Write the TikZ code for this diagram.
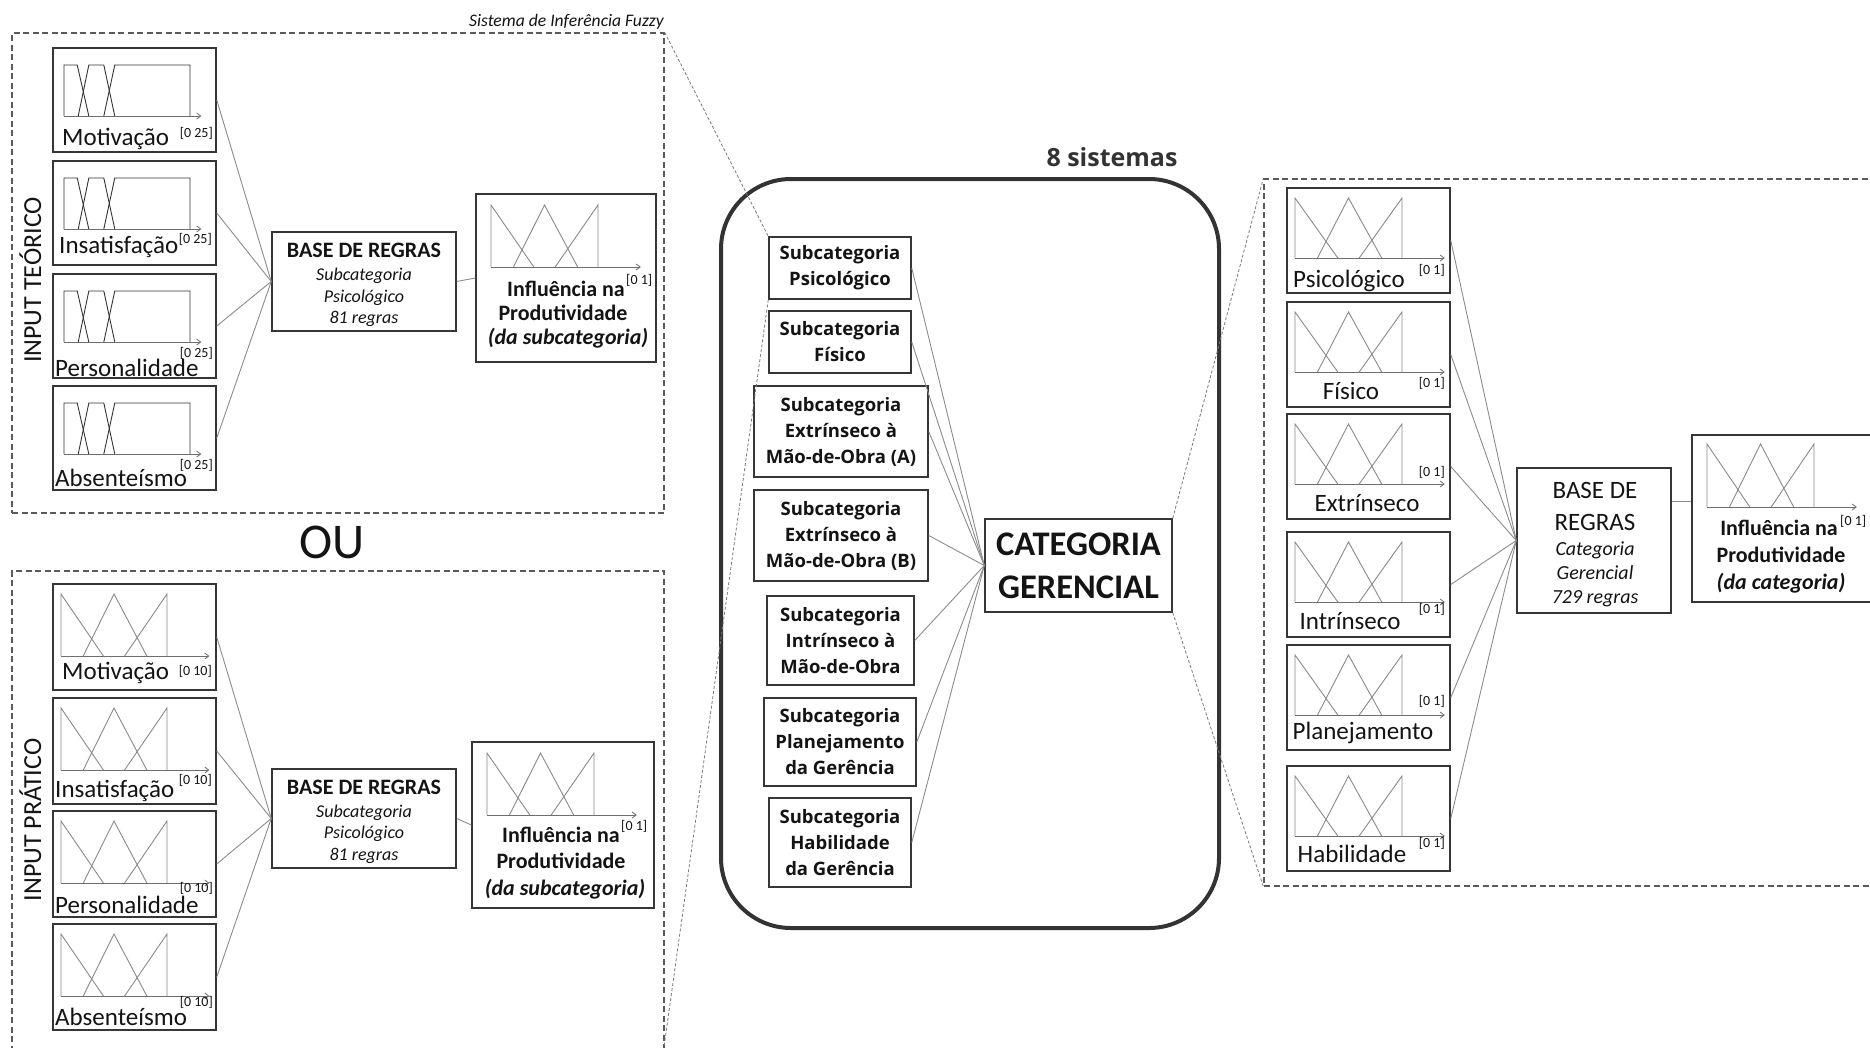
\documentclass[tikz,border=0pt]{standalone}
\usepackage{fontspec}
\setmainfont{Carlito}
\newfontfamily\opensans{Open Sans}
\usetikzlibrary{arrows.meta}

\definecolor{boxc}{HTML}{363636}
\definecolor{linkc}{HTML}{8C8C8C}
\definecolor{projc}{HTML}{7A7A7A}
\definecolor{framec}{HTML}{5A5A5A}
\definecolor{mfdark}{HTML}{333333}
\definecolor{mflight}{HTML}{8A8A8A}
\definecolor{axisc}{HTML}{6E6E6E}
\definecolor{groupc}{HTML}{333333}
\definecolor{textc}{HTML}{141414}

\newcommand\setfs[1]{\fontsize{#1}{#1}\selectfont}

% rectangle node from its two corners: [style]{name}{x1}{y1}{x2}{y2}{text}
\newcommand\rbox[7][box]{%
  \pgfmathsetmacro\bcx{(#3+#5)/2}\pgfmathsetmacro\bcy{(#4+#6)/2}%
  \pgfmathsetmacro\bw{#5-#3}\pgfmathsetmacro\bh{#6-#4}%
  \node[#1, minimum width=\bw pt, minimum height=\bh pt] (#2) at (\bcx,\bcy) {#7};}

% three triangular membership functions: x0, base y, width, height
\newcommand\trimf[4]{%
  \begin{scope}[shift={(#1,#2)}]
    \draw[mfline] (0,0) -- (0,-#4) -- ({0.40*#3},0);
    \draw[mfline] ({0.21*#3},0) -- ({0.5*#3},-#4) -- ({0.81*#3},0);
    \draw[mfline] ({0.60*#3},0) -- (#3,-#4) -- (#3,0);
    \draw[axisline] (0,0) -- ({1.4*#3},0);
  \end{scope}}

% three trapezoidal membership functions: x0, base y, width, height
\newcommand\trapmf[4]{%
  \begin{scope}[shift={(#1,#2)}]
    \draw[mfline, draw=mfdark] (0,0) -- (0,-#4) -- ({0.105*#3},-#4) -- ({0.197*#3},0);
    \draw[mfline, draw=mfdark] ({0.113*#3},0) -- ({0.197*#3},-#4) -- ({0.316*#3},-#4) -- ({0.403*#3},0);
    \draw[mfline, draw=mfdark] ({0.316*#3},0) -- ({0.403*#3},-#4) -- (#3,-#4) -- (#3,0);
    \draw[axisline] (0,0) -- ({1.09*#3},0);
  \end{scope}}

\begin{document}
\begin{tikzpicture}[x=1pt,y=-1pt,
  box/.style={draw=boxc, line width=1.5pt, inner sep=0pt},
  frame/.style={draw=framec, line width=1.3pt, dash pattern=on 6pt off 3.5pt, inner sep=0pt},
  group/.style={draw=groupc, line width=4pt, rounded corners=70pt, inner sep=0pt},
  sub/.style={box, align=center, text=textc, font={\opensans\bfseries\fontsize{18.5}{26}\selectfont}},
  cat/.style={box, align=center, text=textc, font={\bfseries\fontsize{34.5}{43}\selectfont}},
  link/.style={draw=linkc, line width=0.9pt},
  proj/.style={draw=projc, line width=0.8pt, dash pattern=on 3pt off 2pt},
  mfline/.style={draw=mflight, line width=0.9pt},
  axisline/.style={draw=axisc, line width=0.8pt, -{Straight Barb[length=4pt,width=6pt]}},
  txt/.style={inner sep=0pt, text=textc, anchor=base},
  lab/.style={txt, font=\setfs{25}},
  sup/.style={txt, anchor=base east, font=\setfs{14}},
  supw/.style={txt, anchor=base west, font=\setfs{14}},
  rulehead/.style={txt, font=\bfseries\setfs{22}},
  ruleit/.style={txt, font=\itshape\setfs{18}},
  outb/.style={txt, font=\bfseries\setfs{22}},
  outbi/.style={txt, font=\bfseries\itshape\setfs{22}}
]
\useasboundingbox (0,0) rectangle (1870,1047);
\fill[white] (0,0) rectangle (1870,1047);
\clip (0,0) rectangle (1870,1047);

% ---------- theoretical input system ----------
\node[txt, anchor=base east, font=\itshape\setfs{17.6}] (title) at (664,26) {Sistema de Inferência Fuzzy};
\rbox[frame]{tframe}{12}{33}{664}{513}{}
\node[txt, rotate=90, font=\setfs{26}] (inT) at (41,280) {INPUT TEÓRICO};

\rbox{t1}{53}{48}{216}{152}{}
\rbox{t2}{53}{161}{216}{265}{}
\rbox{t3}{53}{274}{216}{378}{}
\rbox{t4}{53}{386}{216}{490}{}
\trapmf{64}{116}{126}{51}
\trapmf{64}{229}{126}{51}
\trapmf{64}{342}{126}{51}
\trapmf{64}{454}{126}{51}
\node[lab, anchor=base west] at (62,145) {Motivação};
\node[sup] at (213,137) {[0 25]};
\node[lab, anchor=base west] at (59,253) {Insatisfação};
\node[sup] at (212,243) {[0 25]};
\node[lab, anchor=base west] at (55,376) {Personalidade};
\node[sup] at (213,357) {[0 25]};
\node[lab, anchor=base west] at (55,486) {Absenteísmo};
\node[sup] at (213,469) {[0 25]};

\rbox{lb1}{272}{232}{456}{331}{}
\node[rulehead] at (364,257) {BASE DE REGRAS};
\node[ruleit] at (364,280) {Subcategoria};
\node[ruleit] at (364,302) {Psicológico};
\node[ruleit] at (364,323) {81 regras};

\rbox{lo1}{476}{194}{656}{362}{}
\trimf{491}{267}{107}{62}
\node[outb] at (566,296) {Influência na};
\node[supw] at (626,284) {[0 1]};
\node[outb] at (563,320) {Produtividade};
\node[outbi] at (568,344) {(da subcategoria)};

\foreach \n in {t1,t2,t3,t4} \draw[link] (\n.east) -- (lb1.west);
\draw[link] (lb1.east) -- (lo1.west);

\node[txt, font=\setfs{50}] (ou) at (332,558) {OU};

% ---------- practical input system ----------
\rbox[frame]{bframe}{12}{571}{664}{1120}{}
\node[txt, rotate=90, font=\setfs{26}] (inP) at (41,820) {INPUT PRÁTICO};

\rbox{p1}{53}{584}{216}{690}{}
\rbox{p2}{53}{698}{216}{804}{}
\rbox{p3}{53}{811}{216}{917}{}
\rbox{p4}{53}{924}{216}{1030}{}
\trimf{61}{656}{106}{62}
\trimf{61}{770}{106}{62}
\trimf{61}{883}{106}{62}
\trimf{61}{996}{106}{62}
\node[lab, anchor=base west] at (62,679) {Motivação};
\node[sup] at (212,675) {[0 10]};
\node[lab, anchor=base west] at (55,797) {Insatisfação};
\node[sup] at (212,784) {[0 10]};
\node[lab, anchor=base west] at (55,913) {Personalidade};
\node[sup] at (213,892) {[0 10]};
\node[lab, anchor=base west] at (55,1025) {Absenteísmo};
\node[sup] at (213,1006) {[0 10]};

\rbox{lb2}{272}{769}{456}{868}{}
\node[rulehead] at (364,794) {BASE DE REGRAS};
\node[ruleit] at (364,817) {Subcategoria};
\node[ruleit] at (364,838) {Psicológico};
\node[ruleit] at (364,860) {81 regras};

\rbox{lo2}{472}{742}{654}{908}{}
\trimf{487}{815}{107}{62}
\node[outb] at (561,842) {Influência na};
\node[supw] at (621,830) {[0 1]};
\node[outb] at (561,868) {Produtividade};
\node[outbi] at (565,895) {(da subcategoria)};

\foreach \n in {p1,p2,p3,p4} \draw[link] (\n.east) -- (lb2.west);
\draw[link] (lb2.east) -- (lo2.west);

% ---------- management category: 8 systems ----------
\node[txt, font={\opensans\bfseries\setfs{25}}, text=groupc] (nsys) at (1112,166) {8 sistemas};
\rbox[group]{grp}{721}{179}{1219}{928}{}

\rbox[sub]{s1}{769}{237}{911}{299}{Subcategoria\\Psicológico}
\rbox[sub]{s2}{769}{311}{911}{373}{Subcategoria\\Físico}
\rbox[sub]{s3}{754}{386}{928}{477}{Subcategoria\\Extrínseco à\\Mão-de-Obra (A)}
\rbox[sub]{s4}{754}{490}{928}{581}{Subcategoria\\Extrínseco à\\Mão-de-Obra (B)}
\rbox[sub]{s5}{767}{596}{914}{685}{Subcategoria\\Intrínseco à\\Mão-de-Obra}
\rbox[sub]{s6}{764}{698}{916}{786}{Subcategoria\\Planejamento\\da Gerência}
\rbox[sub]{s7}{769}{798}{911}{887}{Subcategoria\\Habilidade\\da Gerência}
\rbox[cat]{cat}{985}{519}{1172}{612}{CATEGORIA\\GERENCIAL}

\foreach \n in {s1,s2,s3,s4,s5,s6,s7} \draw[link] (\n.east) -- (cat.west);

% ---------- category-level system ----------
\rbox[frame]{rframe}{1264}{179}{1920}{886}{}

\rbox{r1}{1287}{188}{1450}{293}{}
\rbox{r2}{1287}{302}{1450}{407}{}
\rbox{r3}{1287}{414}{1450}{519}{}
\rbox{r4}{1287}{532}{1450}{637}{}
\rbox{r5}{1287}{645}{1450}{750}{}
\rbox{r6}{1287}{766}{1450}{871}{}
\trimf{1295}{258}{107}{60}
\trimf{1295}{372}{107}{60}
\trimf{1295}{484}{107}{60}
\trimf{1295}{602}{107}{60}
\trimf{1295}{715}{107}{60}
\trimf{1295}{836}{107}{60}
\node[lab] at (1349,287) {Psicológico};
\node[sup] at (1445,274) {[0 1]};
\node[lab] at (1351,399) {Físico};
\node[sup] at (1445,387) {[0 1]};
\node[lab] at (1367,511) {Extrínseco};
\node[sup] at (1445,476) {[0 1]};
\node[lab] at (1350,629) {Intrínseco};
\node[sup] at (1445,613) {[0 1]};
\node[lab] at (1363,739) {Planejamento};
\node[sup] at (1445,705) {[0 1]};
\node[lab] at (1352,862) {Habilidade};
\node[sup] at (1445,847) {[0 1]};

\rbox{rb}{1517}{468}{1671}{613}{}
\node[txt, font=\setfs{25}] at (1595,498) {BASE DE};
\node[txt, font=\setfs{25}] at (1595,530) {REGRAS};
\node[txt, font=\itshape\setfs{20}] at (1595,555) {Categoria};
\node[txt, font=\itshape\setfs{20}] at (1595,579) {Gerencial};
\node[txt, font=\itshape\setfs{20}] at (1595,603) {729 regras};

\rbox{ro}{1692}{435}{1920}{602}{}
\trimf{1707}{507}{107}{63}
\node[outb] at (1779,535) {Influência na};
\node[supw] at (1840,525) {[0 1]};
\node[outb] at (1781,562) {Produtividade};
\node[outbi] at (1781,589) {(da categoria)};

\foreach \n in {r1,r2,r3,r4,r5,r6} \draw[link] (\n.east) -- (rb.west);
\draw[link] ([yshift=39pt]rb.east) -- ([yshift=39pt]rb.east -| ro.west);

% ---------- zoom projections ----------
\coordinate (lowend) at (664,1047);
\draw[proj] (tframe.north east) -- (s1.north west);
\draw[proj] (s1.south west) -- (lowend);
\draw[proj] (cat.north east) -- (rframe.north west);
\draw[proj] (cat.south east) -- (rframe.south west);
\end{tikzpicture}
\end{document}
